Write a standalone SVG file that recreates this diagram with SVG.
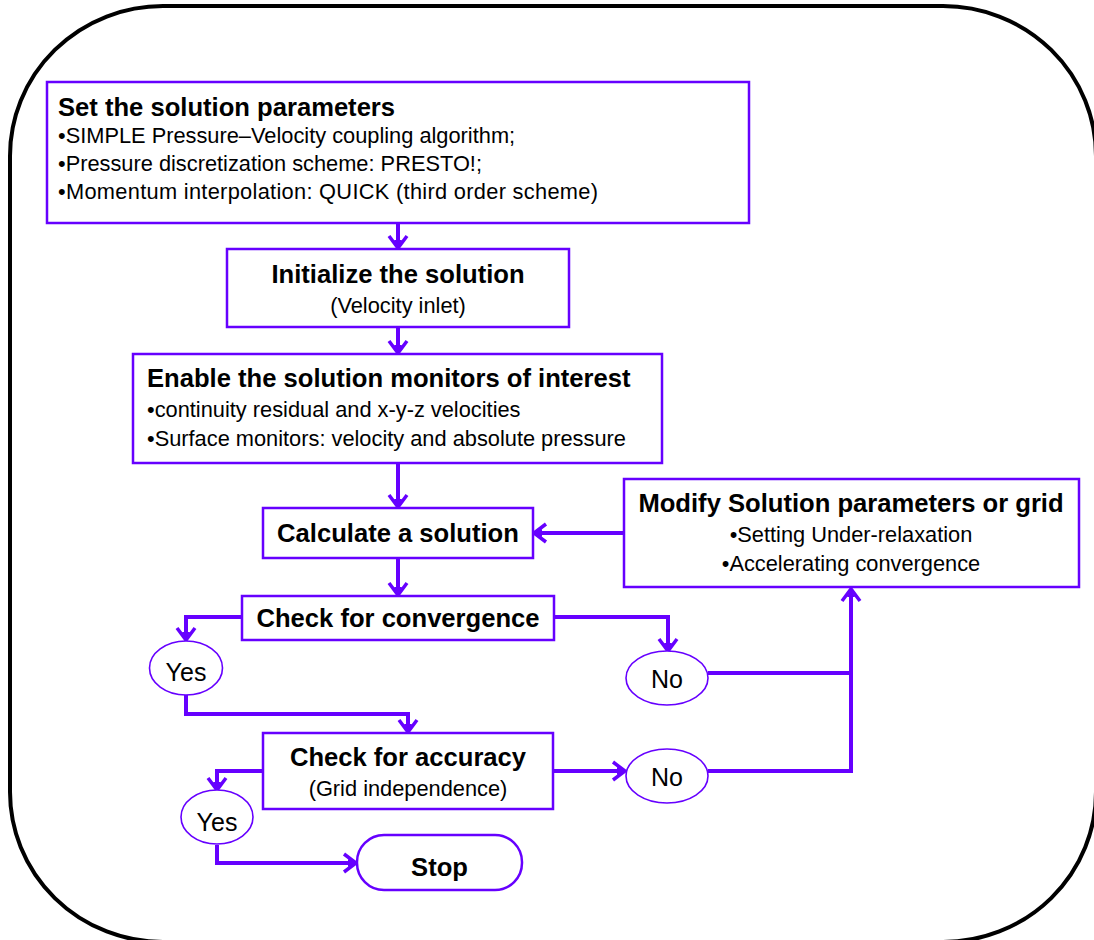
<svg xmlns="http://www.w3.org/2000/svg" width="1094" height="940" viewBox="0 0 1094 940">
<defs>
<style>
.box{fill:#fff;stroke:#6600ff;stroke-width:2.5}
.ell{fill:#fff;stroke:#6600ff;stroke-width:1.6}
.con{fill:none;stroke:#6600ff;stroke-width:4;stroke-linejoin:miter}
.t{font-family:"Liberation Sans",Arial,sans-serif;fill:#000}
.b{font-weight:bold;font-size:25.6px}
.r{font-size:21.8px}
.yn{font-size:25px}
.c{text-anchor:middle}
</style>
<marker id="ah" markerUnits="userSpaceOnUse" markerWidth="20" markerHeight="24" viewBox="0 0 20 24" refX="16" refY="12" orient="auto">
<path d="M4,3 L16,12 L4,21" fill="none" stroke="#6600ff" stroke-width="3.5"/>
<path d="M8,8 L16,12 L8,16 z" fill="#6600ff"/>
</marker>
</defs>
<rect x="10" y="6" width="1086" height="936" rx="153" ry="150" fill="#fff" stroke="#000" stroke-width="4"/>

<g id="connectors">
<path class="con" d="M398,223 V248" marker-end="url(#ah)"/>
<path class="con" d="M398,327 V353" marker-end="url(#ah)"/>
<path class="con" d="M398,463 V507" marker-end="url(#ah)"/>
<path class="con" d="M398,558 V595" marker-end="url(#ah)"/>
<path class="con" d="M624,533 H534" marker-end="url(#ah)"/>
<path class="con" d="M242,617 H186 V640" marker-end="url(#ah)"/>
<path class="con" d="M554,617 H668 V651" marker-end="url(#ah)"/>
<path class="con" d="M186,695 V714 H408 V732" marker-end="url(#ah)"/>
<path class="con" d="M263,771 H217 V790" marker-end="url(#ah)"/>
<path class="con" d="M553,771 H625" marker-end="url(#ah)"/>
<path class="con" d="M217,845 V863 H356" marker-end="url(#ah)"/>
<path class="con" d="M708,673 H851"/>
<path class="con" d="M708,771 H851 V589" marker-end="url(#ah)"/>
</g>

<g id="set-params">
<rect class="box" x="47" y="82" width="702" height="141"/>
<text class="t b" x="58" y="116">Set the solution parameters</text>
<text class="t r" x="58" y="143">•SIMPLE Pressure–Velocity coupling algorithm;</text>
<text class="t r" x="58" y="171">•Pressure discretization scheme: PRESTO!;</text>
<text class="t r" x="58" y="199" textLength="540" lengthAdjust="spacing">•Momentum interpolation: QUICK (third order scheme)</text>
</g>

<g id="initialize">
<rect class="box" x="227" y="249" width="342" height="78"/>
<text class="t b c" x="398" y="283">Initialize the solution</text>
<text class="t r c" x="398" y="313">(Velocity inlet)</text>
</g>

<g id="monitors">
<rect class="box" x="133" y="354" width="529" height="109"/>
<text class="t b" x="147" y="387">Enable the solution monitors of interest</text>
<text class="t r" x="147" y="417">•continuity residual and x-y-z velocities</text>
<text class="t r" x="147" y="446">•Surface monitors: velocity and absolute pressure</text>
</g>

<g id="calculate">
<rect class="box" x="263" y="508" width="270" height="50"/>
<text class="t b c" x="398" y="542">Calculate a solution</text>
</g>

<g id="modify">
<rect class="box" x="624" y="479" width="455" height="108"/>
<text class="t b c" x="851" y="512">Modify Solution parameters or grid</text>
<text class="t r c" x="851" y="542">•Setting Under-relaxation</text>
<text class="t r c" x="851" y="571">•Accelerating convergence</text>
</g>

<g id="check-convergence">
<rect class="box" x="242" y="596" width="312" height="44"/>
<text class="t b c" x="398" y="627">Check for convergence</text>
</g>

<g id="yes1">
<ellipse class="ell" cx="186" cy="668" rx="36.5" ry="27"/>
<text class="t yn c" x="186" y="681">Yes</text>
</g>

<g id="no1">
<ellipse class="ell" cx="667" cy="678" rx="41" ry="27"/>
<text class="t yn c" x="667" y="688">No</text>
</g>

<g id="check-accuracy">
<rect class="box" x="263" y="733" width="290" height="76"/>
<text class="t b c" x="408" y="766">Check for accuracy</text>
<text class="t r c" x="408" y="796">(Grid independence)</text>
</g>

<g id="no2">
<ellipse class="ell" cx="667" cy="776" rx="41" ry="27"/>
<text class="t yn c" x="667" y="786">No</text>
</g>

<g id="yes2">
<ellipse class="ell" cx="217" cy="817" rx="36" ry="27"/>
<text class="t yn c" x="217" y="831">Yes</text>
</g>

<g id="stop">
<rect class="box" x="357" y="835" width="165" height="55" rx="27" ry="27"/>
<text class="t b c" x="439.5" y="876">Stop</text>
</g>
</svg>
